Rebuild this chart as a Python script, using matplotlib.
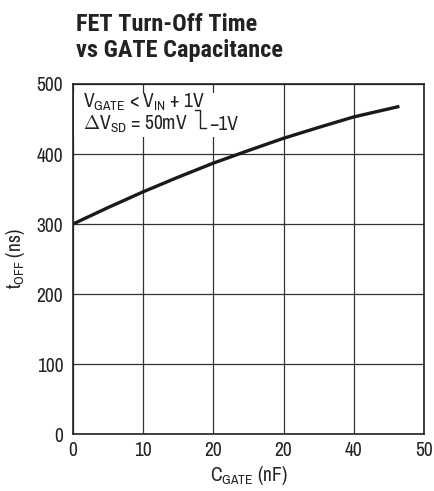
import matplotlib
matplotlib.use("Agg")
import matplotlib.pyplot as plt
import numpy as np

# curve
c_gate = [0, 5, 10, 15, 20, 25, 30, 35, 40, 46.5]
t_off = [300, 323.5, 346, 367, 387, 405, 422.5, 438, 453, 468]

x_ticks = [0, 10, 20, 30, 40, 50]
x_tick_labels = ["0", "10", "20", "20", "40", "50"]   # original sheet repeats "20"
y_ticks = [0, 100, 200, 300, 400, 500]

narrow = ["Archivo Narrow", "IBM Plex Sans Condensed", "DejaVu Sans"]
bold_narrow = ["Roboto Condensed", "IBM Plex Sans Condensed", "DejaVu Sans"]
plt.rcParams["font.family"] = narrow
plt.rcParams["mathtext.fontset"] = "custom"
plt.rcParams["mathtext.rm"] = "Archivo Narrow"
plt.rcParams["mathtext.it"] = "Archivo Narrow"

ink = "#222222"
fs = 14

fig = plt.figure(figsize=(4.35, 4.91), dpi=100)
ax = fig.add_axes([73 / 435, 1 - 434 / 491, 351 / 435, 350 / 491])

ax.plot(c_gate, t_off, color="#1a1a1a", lw=2.4, solid_capstyle="butt", zorder=3)

ax.set_xlim(0, 50)
ax.set_ylim(0, 500)
ax.set_xticks(x_ticks)
ax.set_xticklabels(x_tick_labels)
ax.set_yticks(y_ticks)
ax.grid(True, color="#333333", lw=0.9)
ax.tick_params(axis="y", length=0, labelsize=fs, colors=ink, pad=7)
ax.tick_params(axis="x", length=0, labelsize=fs, colors=ink, pad=5)
for s in ax.spines.values():
    s.set_color(ink)
    s.set_linewidth(1.2)

ax.set_xlabel(r"C$_{\mathrm{GATE}}$ (nF)", fontsize=fs, color=ink, labelpad=3)
ax.set_ylabel(r"t$_{\mathrm{OFF}}$ (ns)", fontsize=fs, color=ink, labelpad=7)

fig.text(76 / 435, 1 - 31 / 491, "FET Turn-Off Time", fontsize=17.5, fontweight="bold",
         color=ink, family=bold_narrow, va="baseline")
fig.text(76 / 435, 1 - 57 / 491, "vs GATE Capacitance", fontsize=17.5, fontweight="bold",
         color=ink, family=bold_narrow, va="baseline")

# condition note with white box behind it
box = plt.Rectangle((0.004, 0.849), 0.46, 0.125, transform=ax.transAxes,
                    facecolor="white", edgecolor="none", zorder=2)
ax.add_patch(box)
ax.text(0.028, 0.931, r"V$_{\mathrm{GATE}}$ < V$_{\mathrm{IN}}$ + 1V", transform=ax.transAxes,
        fontsize=fs, color=ink, va="baseline", zorder=4)
ax.text(0.028, 0.869, r"$\Delta$V$_{\mathrm{SD}}$ = 50mV", transform=ax.transAxes,
        fontsize=fs, color=ink, va="baseline", zorder=4)
ax.text(0.387, 0.869, "\u22121V", transform=ax.transAxes,
        fontsize=fs, color=ink, va="baseline", zorder=4)
# bracket joining the two lines
bx = 0.363
ax.plot([0.348, bx, bx, 0.378], [0.925, 0.925, 0.874, 0.874], transform=ax.transAxes,
        color=ink, lw=1.0, zorder=4)

fig.savefig("out.png", dpi=100)
